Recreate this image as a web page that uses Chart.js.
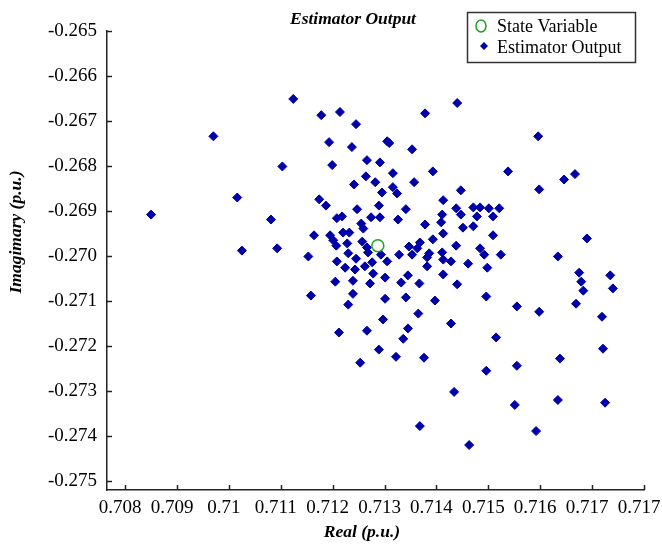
<!DOCTYPE html>
<html>
<head>
<meta charset="utf-8">
<script src="https://cdn.jsdelivr.net/npm/chart.js@4.4.0/dist/chart.umd.min.js"></script>
<style>
  html, body { margin: 0; padding: 0; background: #fff; }
  canvas { display: block; }
</style>
</head>
<body>
<canvas id="chart" width="662" height="546"></canvas>
<script>
// estimator output samples (real / imaginary part, p.u.)
const estReal = [
  0.71124, 0.71178, 0.71214, 0.71245, 0.71378, 0.71440, 0.70970, 0.71193, 0.71237, 0.71305,
  0.71309, 0.71353, 0.71596, 0.71103, 0.71199, 0.71266, 0.71291, 0.71316, 0.71393, 0.71538,
  0.71264, 0.71241, 0.71282, 0.71295, 0.71316, 0.71324, 0.71357, 0.71447, 0.71646, 0.71667,
  0.71598, 0.71016, 0.71174, 0.71187, 0.71247, 0.71289, 0.71341, 0.71413, 0.71438, 0.71471,
  0.71484, 0.71501, 0.71521, 0.70850, 0.71081, 0.71208, 0.71218, 0.71274, 0.71291, 0.71255,
  0.71259, 0.71326, 0.71411, 0.71447, 0.71478, 0.71509, 0.71409, 0.71378, 0.71451, 0.71471,
  0.71164, 0.71195, 0.71220, 0.71232, 0.71201, 0.71228, 0.71257, 0.71207, 0.71266, 0.71268,
  0.71509, 0.71413, 0.71393, 0.71368, 0.71363, 0.71347, 0.71438, 0.71484, 0.71025, 0.71093,
  0.71153, 0.71230, 0.71245, 0.71208, 0.71224, 0.71243, 0.71262, 0.71276, 0.71278, 0.71293,
  0.71328, 0.71353, 0.71386, 0.71411, 0.71492, 0.71524, 0.71634, 0.71690, 0.71305, 0.71382,
  0.71413, 0.71428, 0.71461, 0.71498, 0.71382, 0.71345, 0.71301, 0.71413, 0.71675, 0.71735,
  0.71205, 0.71239, 0.71272, 0.71332, 0.71367, 0.71440, 0.71679, 0.71683, 0.71740, 0.71158,
  0.71239, 0.71230, 0.71301, 0.71341, 0.71397, 0.71496, 0.71555, 0.71598, 0.71669, 0.71719,
  0.71297, 0.71365, 0.71428, 0.71345, 0.71336, 0.71266, 0.71212, 0.71515, 0.71289, 0.71322,
  0.71376, 0.71253, 0.71496, 0.71555, 0.71638, 0.71721, 0.71434, 0.71551, 0.71634, 0.71725,
  0.71368, 0.71592, 0.71463
];
const estImag = [
  -0.26651, -0.26687, -0.26680, -0.26707, -0.26683, -0.26660, -0.26734, -0.26747, -0.26758, -0.26745,
  -0.26749, -0.26763, -0.26734, -0.26801, -0.26798, -0.26787, -0.26792, -0.26816, -0.26812, -0.26812,
  -0.26823, -0.26841, -0.26836, -0.26859, -0.26847, -0.26861, -0.26836, -0.26854, -0.26830, -0.26818,
  -0.26852, -0.26870, -0.26874, -0.26888, -0.26896, -0.26888, -0.26896, -0.26876, -0.26894, -0.26892,
  -0.26892, -0.26894, -0.26894, -0.26908, -0.26919, -0.26916, -0.26912, -0.26914, -0.26914, -0.26928,
  -0.26939, -0.26919, -0.26908, -0.26908, -0.26912, -0.26912, -0.26925, -0.26930, -0.26937, -0.26934,
  -0.26954, -0.26954, -0.26948, -0.26948, -0.26965, -0.26972, -0.26968, -0.26977, -0.26981, -0.26992,
  -0.26954, -0.26950, -0.26963, -0.26970, -0.26983, -0.26979, -0.26977, -0.26983, -0.26988, -0.26983,
  -0.27001, -0.26994, -0.27006, -0.27012, -0.27026, -0.27030, -0.27023, -0.27014, -0.27039, -0.26997,
  -0.26997, -0.26997, -0.26994, -0.26992, -0.26997, -0.26997, -0.27001, -0.26961, -0.27012, -0.27003,
  -0.27008, -0.27012, -0.27017, -0.27026, -0.27023, -0.27043, -0.27048, -0.27041, -0.27037, -0.27043,
  -0.27057, -0.27055, -0.27061, -0.27059, -0.27061, -0.27063, -0.27057, -0.27077, -0.27072, -0.27088,
  -0.27084, -0.27108, -0.27095, -0.27092, -0.27099, -0.27090, -0.27112, -0.27124, -0.27106, -0.27135,
  -0.27141, -0.27128, -0.27150, -0.27161, -0.27184, -0.27166, -0.27170, -0.27181, -0.27208, -0.27224,
  -0.27226, -0.27237, -0.27255, -0.27244, -0.27228, -0.27206, -0.27302, -0.27331, -0.27320, -0.27326,
  -0.27378, -0.27389, -0.27420
];

// true state variable
const stateReal = [0.71287];
const stateImag = [-0.26977];

// axis ticks
const xTickValues = [0.708, 0.709, 0.710, 0.711, 0.712, 0.713, 0.714, 0.715, 0.716, 0.717, 0.718];
const xTickLabels = ['0.708', '0.709', '0.71', '0.711', '0.712', '0.713', '0.714', '0.715', '0.716', '0.717', '0.717'];
const yTickValues = [-0.275, -0.274, -0.273, -0.272, -0.271, -0.270, -0.269, -0.268, -0.267, -0.266, -0.265];
const yTickLabels = ['-0.275', '-0.274', '-0.273', '-0.272', '-0.271', '-0.270', '-0.269', '-0.268', '-0.267', '-0.266', '-0.265'];

const SERIF = '"Liberation Serif", "Times New Roman", serif';
const BLUE = '#0000aa';
const GREEN = '#22a022';
const AXIS = '#222';

// short tick marks pointing into the plot
const innerTicks = {
  id: 'innerTicks',
  afterDraw(chart) {
    const { ctx, chartArea: a, scales: { x, y } } = chart;
    ctx.save();
    ctx.strokeStyle = AXIS;
    ctx.lineWidth = 1.5;
    ctx.beginPath();
    x.ticks.forEach(t => {
      const px = Math.round(x.getPixelForValue(t.value)) + 0.5;
      ctx.moveTo(px, a.bottom);
      ctx.lineTo(px, a.bottom - 5);
    });
    y.ticks.forEach(t => {
      const py = Math.round(y.getPixelForValue(t.value)) + 0.5;
      ctx.moveTo(a.left, py);
      ctx.lineTo(a.left + 5, py);
    });
    ctx.stroke();
    ctx.restore();
  }
};

// titles and boxed legend
const labelsAndLegend = {
  id: 'labelsAndLegend',
  afterDraw(chart) {
    const ctx = chart.ctx;
    ctx.save();
    ctx.fillStyle = '#000';
    ctx.font = 'bold italic 17.5px ' + SERIF;
    ctx.textAlign = 'center';
    ctx.textBaseline = 'alphabetic';
    ctx.fillText('Estimator Output', 353, 24);
    ctx.fillText('Real (p.u.)', 362, 537);
    ctx.save();
    ctx.translate(21, 232);
    ctx.rotate(-Math.PI / 2);
    ctx.fillText('Imagimary (p.u.)', 0, 0);
    ctx.restore();

    // legend box
    ctx.fillStyle = '#fff';
    ctx.fillRect(467, 12, 168, 50);
    ctx.strokeStyle = '#333';
    ctx.lineWidth = 1.5;
    ctx.strokeRect(467.5, 12.5, 168, 50);

    ctx.strokeStyle = GREEN;
    ctx.lineWidth = 1.5;
    ctx.beginPath();
    ctx.ellipse(481, 26, 5, 6, 0, 0, Math.PI * 2);
    ctx.stroke();

    ctx.fillStyle = BLUE;
    ctx.beginPath();
    ctx.moveTo(484, 42);
    ctx.lineTo(488, 46);
    ctx.lineTo(484, 50);
    ctx.lineTo(480, 46);
    ctx.closePath();
    ctx.fill();

    ctx.fillStyle = '#000';
    ctx.font = '18px ' + SERIF;
    ctx.textAlign = 'left';
    ctx.fillText('State Variable', 497, 32);
    ctx.fillText('Estimator Output', 497, 53);
    ctx.restore();
  }
};

const ctx = document.getElementById('chart').getContext('2d');

new Chart(ctx, {
  type: 'scatter',
  data: {
    datasets: [
      {
        label: 'State Variable',
        data: stateReal.map((v, i) => ({ x: v, y: stateImag[i] })),
        pointStyle: 'circle',
        pointRadius: 6,
        backgroundColor: 'rgba(0,0,0,0)',
        borderColor: GREEN,
        borderWidth: 1.5
      },
      {
        label: 'Estimator Output',
        data: estReal.map((v, i) => ({ x: v, y: estImag[i] })),
        pointStyle: 'rectRot',
        pointRadius: 4.5,
        backgroundColor: BLUE,
        borderColor: BLUE,
        borderWidth: 1
      }
    ]
  },
  options: {
    responsive: false,
    devicePixelRatio: 1,
    animation: false,
    events: [],
    layout: { padding: { left: 0, right: 0, top: 31, bottom: 0 } },
    plugins: {
      legend: { display: false },
      tooltip: { enabled: false },
      title: { display: false }
    },
    scales: {
      x: {
        type: 'linear',
        min: 0.70765,
        max: 0.718,
        afterBuildTicks: axis => { axis.ticks = xTickValues.map(v => ({ value: v })); },
        afterFit: s => { s.height = 56; s.paddingLeft = 0; s.paddingRight = 18; },
        grid: { display: false, drawTicks: false },
        border: { display: true, color: AXIS, width: 1.5 },
        ticks: {
          autoSkip: false,
          maxRotation: 0,
          padding: 7,
          labelOffset: -5,
          color: '#000',
          font: { family: SERIF, size: 19 },
          callback: (v, i) => xTickLabels[i]
        }
      },
      y: {
        type: 'linear',
        min: -0.2752,
        max: -0.265,
        afterBuildTicks: axis => { axis.ticks = yTickValues.map(v => ({ value: v })); },
        afterFit: s => { s.width = 107; s.paddingTop = 0; s.paddingBottom = 0; },
        grid: { display: false, drawTicks: false },
        border: { display: true, color: AXIS, width: 1.5 },
        ticks: {
          autoSkip: false,
          padding: 10,
          color: '#000',
          font: { family: SERIF, size: 19 },
          callback: (v, i) => yTickLabels[i]
        }
      }
    }
  },
  plugins: [innerTicks, labelsAndLegend]
});
</script>
</body>
</html>
